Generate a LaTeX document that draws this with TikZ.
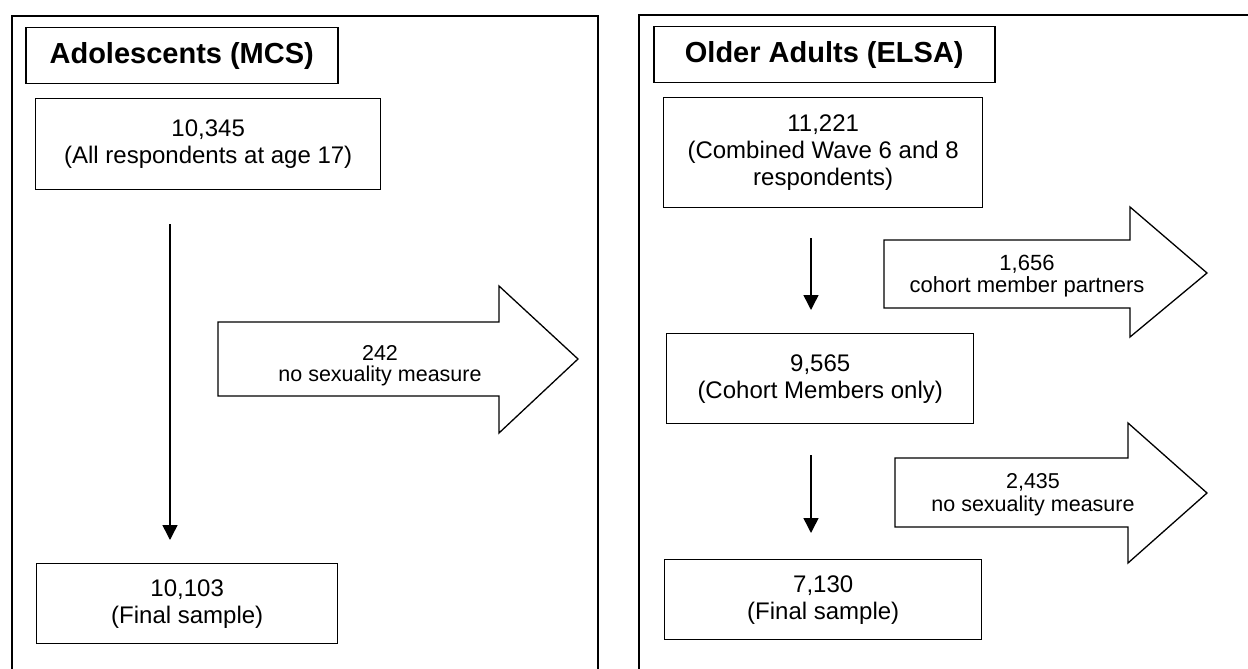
\documentclass[tikz,border=0pt]{standalone}
\usepackage{fontspec}
\setmainfont{Liberation Sans}
\usetikzlibrary{arrows.meta}
\tikzset{
  frameline/.style={line width=1.6pt},
  titlebox/.style={draw, line width=1.5pt, anchor=north west, inner sep=0pt,
    font=\bfseries\fontsize{29}{33}\selectfont},
  stagebox/.style={draw, line width=1.4pt, anchor=north west, inner sep=0pt,
    align=center, font=\fontsize{24}{27}\selectfont},
  flowarrow/.style={line width=1.5pt, -{Triangle[length=15pt,width=15pt]}},
  blockarrow/.style={draw, line width=1.3pt, line join=miter},
  blocktext/.style={align=center, inner sep=0pt, font=\fontsize{21.5}{21}\selectfont}
}
\begin{document}
\begin{tikzpicture}[x=1pt,y=-1pt]
\useasboundingbox (0,0) rectangle (1248,669);
% ---------------- left panel ----------------
\draw[frameline] (12,669) -- (12,16) -- (598,16) -- (598,669);
\node[titlebox, minimum width=312pt, minimum height=56pt] (tL) at (25,27) {Adolescents (MCS)};
\node[stagebox, minimum width=345pt, minimum height=91pt] (L1) at (35,98) {10,345\\(All respondents at age 17)};
\node[stagebox, minimum width=301pt, minimum height=80pt] (L2) at (36,563) {10,103\\(Final sample)};
\coordinate (La) at (170,224);
\coordinate (Lb) at (170,540);
\draw[flowarrow] (La) -- (Lb);
\draw[blockarrow] (218,322) -- (499,322) -- (499,286) -- (578,359) -- (499,433) -- (499,396) -- (218,396) -- cycle;
\node[blocktext] (Lx) at (380,366) {242\\no sexuality measure};
% ---------------- right panel ----------------
\draw[frameline] (639,669) -- (639,15) -- (1248,15);
\node[titlebox, minimum width=341pt, minimum height=56pt] (tR) at (653,26) {Older Adults (ELSA)};
\node[stagebox, minimum width=319pt, minimum height=110pt] (R1) at (663,97) {11,221\\(Combined Wave 6 and 8\\respondents)};
\node[stagebox, minimum width=307pt, minimum height=90pt] (R2) at (666,333) {9,565\\(Cohort Members only)};
\node[stagebox, minimum width=317pt, minimum height=80pt] (R3) at (664,559) {7,130\\(Final sample)};
\coordinate (Ra) at (811,238);
\coordinate (Rb) at (811,310);
\draw[flowarrow] (Ra) -- (Rb);
\coordinate (Rc) at (811,455);
\coordinate (Rd) at (811,533);
\draw[flowarrow] (Rc) -- (Rd);
\draw[blockarrow] (884,240) -- (1130,240) -- (1130,207) -- (1207,273) -- (1130,337) -- (1130,308) -- (884,308) -- cycle;
\node[blocktext, font=\fontsize{22}{22}\selectfont] (Rx) at (1027,276) {1,656\\cohort member partners};
\draw[blockarrow] (895,458) -- (1128,458) -- (1128,423) -- (1207,493) -- (1128,563) -- (1128,527) -- (895,527) -- cycle;
\node[blocktext, font=\fontsize{21.5}{23}\selectfont] (Ry) at (1033,495) {2,435\\no sexuality measure};
\end{tikzpicture}
\end{document}
